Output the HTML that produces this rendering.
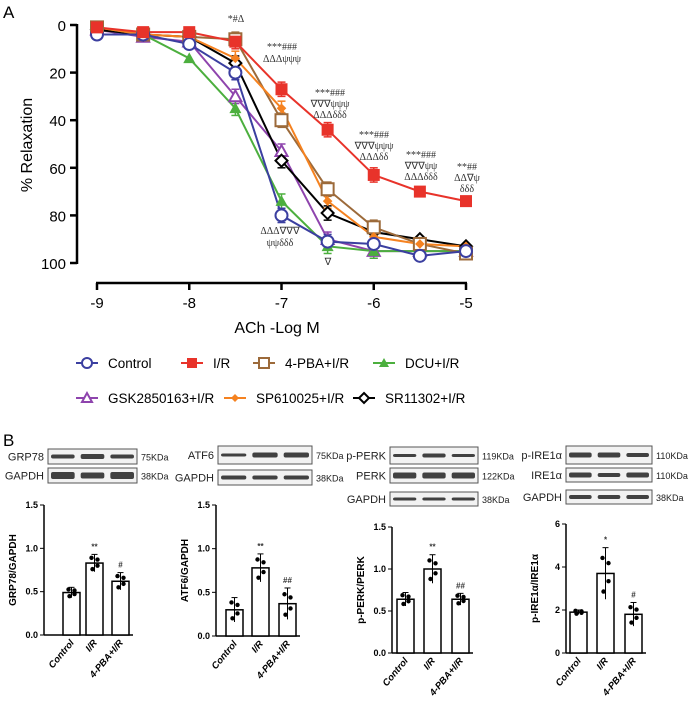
<!DOCTYPE html>
<html><head><meta charset="utf-8"><style>
body{margin:0;background:#fff;width:689px;height:705px;overflow:hidden}
svg{font-family:"Liberation Sans",sans-serif}
</style></head><body>
<svg id="s" width="689" height="705" xmlns="http://www.w3.org/2000/svg">
<text x="3" y="18" font-size="17">A</text>
<text x="3" y="446" font-size="17">B</text>
</svg>
<script>
const s=document.getElementById('s');let h='';
const X=v=>97+(v+9)*92.25, Y=v=>25+v*2.38;
h+=`<line x1="77" y1="24" x2="77" y2="264" stroke="#000" stroke-width="2.5"/>`;
[0,20,40,60,80,100].forEach(v=>{h+=`<line x1="70" y1="${Y(v)}" x2="77" y2="${Y(v)}" stroke="#000" stroke-width="2.5"/><text x="66" y="${Y(v)+6}" font-size="15" text-anchor="end">${v}</text>`});
h+=`<line x1="96" y1="283" x2="467" y2="283" stroke="#000" stroke-width="2.5"/>`;
[-9,-8,-7,-6,-5].forEach(v=>{h+=`<line x1="${X(v)}" y1="283" x2="${X(v)}" y2="290" stroke="#000" stroke-width="2.5"/><text x="${X(v)}" y="308" font-size="15" text-anchor="middle">${v}</text>`});
h+=`<text x="32" y="145" font-size="16" text-anchor="middle" transform="rotate(-90 32 145)">% Relaxation</text>`;
h+=`<text x="277" y="333" font-size="16" text-anchor="middle">ACh -Log M</text>`;
const xs=[-9,-8.5,-8,-7.5,-7,-6.5,-6,-5.5,-5];
const S=[
['#8e44ad','tri',[2,5,7,30,53,90,95,95,95],'GSK2850163+I/R'],
['#4caf3e','ftri',[2,4,14,35,74,93,95,95,95],'DCU+I/R'],
['#000','dia',[2,4,5,16,57,79,87,90,93],'SR11302+I/R'],
['#9c6a3a','sq',[1,4,5,6,40,69,85,92,96],'4-PBA+I/R'],
['#f58220','fdia',[1,4,5,14,35,74,89,92,93],'SP610025+I/R'],
['#3b3fa0','circ',[4,4,8,20,80,91,92,97,95],'Control'],
['#e8332a','fsq',[1,3,3,7,27,44,63,70,74],'I/R']];
function mk(t,x,y,c,r){r=r||6;
 if(t=='circ')return `<circle cx="${x}" cy="${y}" r="${r}" fill="#fff" stroke="${c}" stroke-width="2"/>`;
 if(t=='sq')return `<rect x="${x-r}" y="${y-r}" width="${2*r}" height="${2*r}" fill="#fff" stroke="${c}" stroke-width="2"/>`;
 if(t=='fsq')return `<rect x="${x-r}" y="${y-r}" width="${2*r}" height="${2*r}" fill="${c}"/>`;
 if(t=='tri')return `<polygon points="${x},${y-r} ${x-r},${y+r*0.8} ${x+r},${y+r*0.8}" fill="#fff" stroke="${c}" stroke-width="2"/>`;
 if(t=='ftri')return `<polygon points="${x},${y-r} ${x-r},${y+r*0.8} ${x+r},${y+r*0.8}" fill="${c}"/>`;
 if(t=='dia')return `<polygon points="${x},${y-r} ${x+r},${y} ${x},${y+r} ${x-r},${y}" fill="#fff" stroke="${c}" stroke-width="2"/>`;
 if(t=='fdia')return `<polygon points="${x},${y-r*0.8} ${x+r*0.8},${y} ${x},${y+r*0.8} ${x-r*0.8},${y}" fill="${c}"/>`;}
S.forEach(([c,t,d])=>{h+=`<polyline fill="none" stroke="${c}" stroke-width="2" points="${d.map((v,i)=>X(xs[i])+','+Y(v)).join(' ')}"/>`;
 d.forEach((v,i)=>{if(i>=3&&i<=6){let e=3;h+=`<line x1="${X(xs[i])}" y1="${Y(v-e)}" x2="${X(xs[i])}" y2="${Y(v+e)}" stroke="${c}" stroke-width="1.5"/><line x1="${X(xs[i])-4}" y1="${Y(v-e)}" x2="${X(xs[i])+4}" y2="${Y(v-e)}" stroke="${c}" stroke-width="1.5"/><line x1="${X(xs[i])-4}" y1="${Y(v+e)}" x2="${X(xs[i])+4}" y2="${Y(v+e)}" stroke="${c}" stroke-width="1.5"/>`}});});
S.forEach(([c,t,d])=>d.forEach((v,i)=>h+=mk(t,X(xs[i]),Y(v),c)));
const A=[[236,22,'*#Δ'],[282,50,'***###'],[282,62,'ΔΔΔψψψ'],[330,96,'***###'],[330,107,'∇∇∇ψψψ'],[330,118,'ΔΔΔδδδ'],[374,138,'***###'],[374,149,'∇∇∇ψψψ'],[374,160,'ΔΔΔδδ'],[421,158,'***###'],[421,169,'∇∇∇ψψ'],[421,180,'ΔΔΔδδδ'],[467,170,'**##'],[467,181,'ΔΔ∇ψ'],[467,192,'δδδ'],[280,234,'ΔΔΔ∇∇∇'],[280,246,'ψψδδδ'],[328,265,'∇']];
A.forEach(([x,y,t])=>h+=`<text x="${x}" y="${y}" font-size="10" text-anchor="middle" font-family="Liberation Serif" fill="#333">${t}</text>`);
const L=[[87,363,5],[192,363,6],[264,363,3],[384,363,1],[87,398,0],[235,398,4],[364,398,2]];
L.forEach(([x,y,k])=>{const [c,t,,n]=S[k];h+=`<line x1="${x-11}" y1="${y}" x2="${x+11}" y2="${y}" stroke="${c}" stroke-width="2"/>`+mk(t,x,y,c,5)+`<text x="${x+21}" y="${y+5}" font-size="13.5">${n}</text>`});
function blot(x,y,w,hh,label,kda,bands){let r=`<rect x="${x}" y="${y}" width="${w}" height="${hh}" fill="#f2f2f2" stroke="#555"/>`;
 bands.forEach((b,i)=>{let bw=w/3-6;r+=`<rect x="${x+3+i*w/3}" y="${y+hh/2-b/2}" width="${bw}" height="${b}" rx="2" fill="#222" opacity="0.85"/>`});
 r+=`<text x="${x-4}" y="${y+hh/2+4}" font-size="11" text-anchor="end" fill="#222">${label}</text><text x="${x+w+4}" y="${y+hh/2+4}" font-size="9" fill="#222">${kda}</text>`;return r}
h+=blot(48,449,89,15,'GRP78','75KDa',[4,5,4])+blot(48,468,89,15,'GAPDH','38KDa',[7,6,7]);
h+=blot(218,446,94,18,'ATF6','75KDa',[3,5,5])+blot(218,470,94,15,'GAPDH','38KDa',[4,4,4]);
h+=blot(390,447,88,17,'p-PERK','119KDa',[3,4,3])+blot(390,468,88,15,'PERK','122KDa',[6,6,6])+blot(390,492,88,14,'GAPDH','38KDa',[3,3,3]);
h+=blot(566,446,86,18,'p-IRE1α','110KDa',[5,5,4])+blot(566,468,86,14,'IRE1α','110KDa',[5,4,5])+blot(566,490,86,14,'GAPDH','38KDa',[4,4,4]);
function bar(ax,top,bot,max,ticks,bx,vals,sd,lab,stars,dec){
 const w=17;
 let r=`<line x1="${ax}" y1="${top}" x2="${ax}" y2="${bot}" stroke="#000" stroke-width="1.5"/><line x1="${ax}" y1="${bot}" x2="${bx[2]+w+4}" y2="${bot}" stroke="#000" stroke-width="1.5"/>`;
 const Yb=v=>bot-(bot-top)*v/max;
 ticks.forEach(t=>r+=`<line x1="${ax-4}" y1="${Yb(t)}" x2="${ax}" y2="${Yb(t)}" stroke="#000"/><text x="${ax-6}" y="${Yb(t)+3}" font-size="9" font-weight="bold" text-anchor="end">${t.toFixed(dec)}</text>`);
 r+=`<text x="${ax-28}" y="${(top+bot)/2}" font-size="10" font-weight="bold" text-anchor="middle" transform="rotate(-90 ${ax-28} ${(top+bot)/2})">${lab}</text>`;
 ['Control','I/R','4-PBA+I/R'].forEach((n,i)=>{const x=bx[i],v=vals[i];
  r+=`<rect x="${x}" y="${Yb(v)}" width="${w}" height="${bot-Yb(v)}" fill="#fff" stroke="#000" stroke-width="1.5"/>`;
  r+=`<line x1="${x+w/2}" y1="${Yb(v-sd[i])}" x2="${x+w/2}" y2="${Yb(v+sd[i])}" stroke="#000"/><line x1="${x+w/2-3}" y1="${Yb(v+sd[i])}" x2="${x+w/2+3}" y2="${Yb(v+sd[i])}" stroke="#000"/>`;
  [[-3,0.6],[3,-0.3],[-2,-0.7],[3,0.4]].forEach(([dx,dv])=>r+=`<circle cx="${x+w/2+dx}" cy="${Yb(v+dv*sd[i])}" r="2.2" fill="#000"/>`);
  r+=`<text x="${x+w/2}" y="${Yb(v+sd[i])-5}" font-size="8" text-anchor="middle" font-weight="bold" fill="#333">${stars[i]}</text>`;
  r+=`<text x="${x+w/2+3}" y="${bot+8}" font-size="9.5" font-weight="bold" font-style="italic" text-anchor="end" transform="rotate(-50 ${x+w/2+3} ${bot+8})">${n}</text>`});
 return r}
h+=bar(44,505,635,1.5,[0,0.5,1.0,1.5],[63,86,112],[0.49,0.83,0.62],[0.06,0.1,0.1],'GRP78/GAPDH',['','**','#'],1);
h+=bar(216,505,636,1.5,[0,0.5,1.0,1.5],[226,252,279],[0.30,0.78,0.37],[0.14,0.16,0.18],'ATF6/GAPDH',['','**','##'],1);
h+=bar(392,527,653,1.5,[0,0.5,1.0,1.5],[397,424,452],[0.64,1.0,0.64],[0.08,0.17,0.07],'p-PERK/PERK',['','**','##'],1);
h+=bar(566,524,653,6,[0,2,4,6],[570,597,625],[1.9,3.7,1.8],[0.1,1.2,0.55],'p-IRE1α/IRE1α',['','*','#'],0);
s.insertAdjacentHTML('beforeend',h);
</script>
</body></html>
